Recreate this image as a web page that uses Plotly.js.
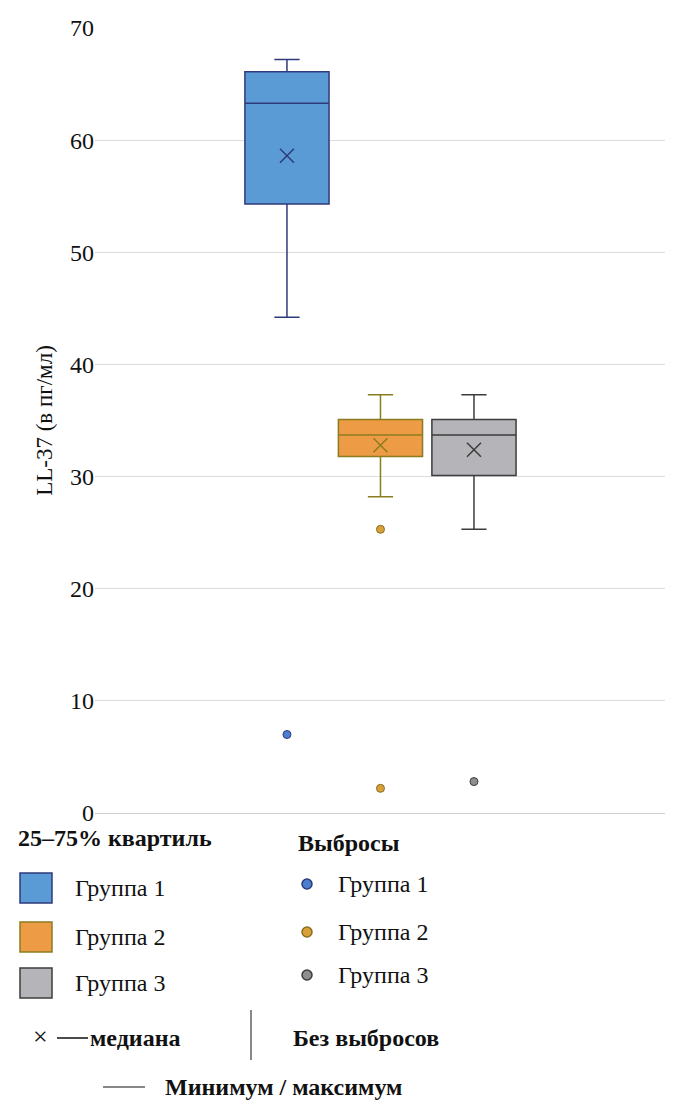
<!DOCTYPE html>
<html><head><meta charset="utf-8">
<script src="https://cdn.plot.ly/plotly-3.0.1.min.js"></script>
<style>body{margin:0;background:#fff}</style></head>
<body><div id="c" style="width:686px;height:1114px"></div>
<script>
const groups=["Группа 1","Группа 2","Группа 3"];
const positions=[1,2,3];
const q1=[54.3,31.8,30.1];
const median=[63.3,33.7,33.7];
const q3=[66.1,35.1,35.1];
const lowerWhisker=[44.2,28.2,25.3];
const upperWhisker=[67.2,37.3,37.3];
const means=[58.6,32.8,32.4];
const outliers=[[7.0],[25.3,2.2],[2.8]];
const fills=["#5b9bd5","#ed9b45","#b5b5b9"];
const lines=["#2f3a7a","#8a7d1f","#3c3c3c"];
const ptFill=["#4a7fd0","#d9a03a","#8e8e8e"];
const ptLine=["#2f3a7a","#8a6d1f","#3c3c3c"];

const L=95,R=665,T=28,B=813;
const px=x=>(x-L)/(R-L), py=y=>(B-y)/(B-T);
const traces=[];
positions.forEach((p,i)=>{
 traces.push({type:'box',x:[p],q1:[q1[i]],median:[median[i]],q3:[q3[i]],lowerfence:[lowerWhisker[i]],upperfence:[upperWhisker[i]],
  boxpoints:false,fillcolor:fills[i],line:{color:lines[i],width:1.5},width:0.9,whiskerwidth:0.3,showlegend:false,hoverinfo:'skip'});
 traces.push({type:'scatter',mode:'markers',x:[p],y:[means[i]],marker:{symbol:'x-thin',size:14,line:{color:lines[i],width:1.5}},showlegend:false});
 traces.push({type:'scatter',mode:'markers',x:outliers[i].map(()=>p),y:outliers[i],marker:{symbol:'circle',size:8,color:ptFill[i],line:{color:ptLine[i],width:1}},showlegend:false});
});
const serif="Liberation Serif, Times New Roman, serif";
const ann=[],shp=[];
function txt(x,y,t,bold,size){ann.push({xref:'paper',yref:'paper',x:px(x),y:py(y),text:bold?'<b>'+t+'</b>':t,showarrow:false,xanchor:'left',yanchor:'middle',xshift:-2,font:{family:serif,size:size||24,color:'#111'}});}
txt(18,838,'25–75% квартиль',true,24);
txt(298,843,'Выбросы',true,24);
[888,937,983].forEach((y,i)=>{
 shp.push({type:'rect',xref:'paper',yref:'paper',x0:px(20),x1:px(52),y0:py(y-15),y1:py(y+15),fillcolor:fills[i],line:{color:lines[i],width:1.5}});
 txt(75,y,groups[i]);
});
[884,932,975].forEach((y,i)=>{
 shp.push({type:'circle',xref:'paper',yref:'paper',x0:px(302),x1:px(312),y0:py(y-5),y1:py(y+5),fillcolor:ptFill[i],line:{color:ptLine[i],width:1.5}});
 txt(338,y,groups[i]);
});
txt(33,1036,'×',false,26);
shp.push({type:'line',xref:'paper',yref:'paper',x0:px(57),x1:px(88),y0:py(1038),y1:py(1038),line:{color:'#111',width:1.5}});
txt(90,1038,'медиана',true,24);
shp.push({type:'line',xref:'paper',yref:'paper',x0:px(251),x1:px(251),y0:py(1010),y1:py(1060),line:{color:'#111',width:1}});
txt(293,1038,'Без выбросов',true,24);
shp.push({type:'line',xref:'paper',yref:'paper',x0:px(103),x1:px(145),y0:py(1087),y1:py(1087),line:{color:'#111',width:1}});
txt(165,1087,'Минимум / максимум',true,24);

Plotly.newPlot('c',traces,{
 width:686,height:1114,margin:{l:L,r:686-R,t:T,b:1114-B},
 paper_bgcolor:'#fff',plot_bgcolor:'#fff',
 xaxis:{range:[-1.053,5.043],showticklabels:false,showgrid:false,zeroline:false,showline:true,linecolor:'#d0d0d0',fixedrange:true},
 yaxis:{range:[0,70],dtick:10,gridcolor:'#dcdcdc',zeroline:false,showline:false,ticks:'',
  tickfont:{family:serif,size:24,color:'#111'},
  title:{text:'LL-37 (в пг/мл)',font:{family:serif,size:23,color:'#111'},standoff:10}},
 annotations:ann,shapes:shp,showlegend:false
},{staticPlot:true});
</script></body></html>
